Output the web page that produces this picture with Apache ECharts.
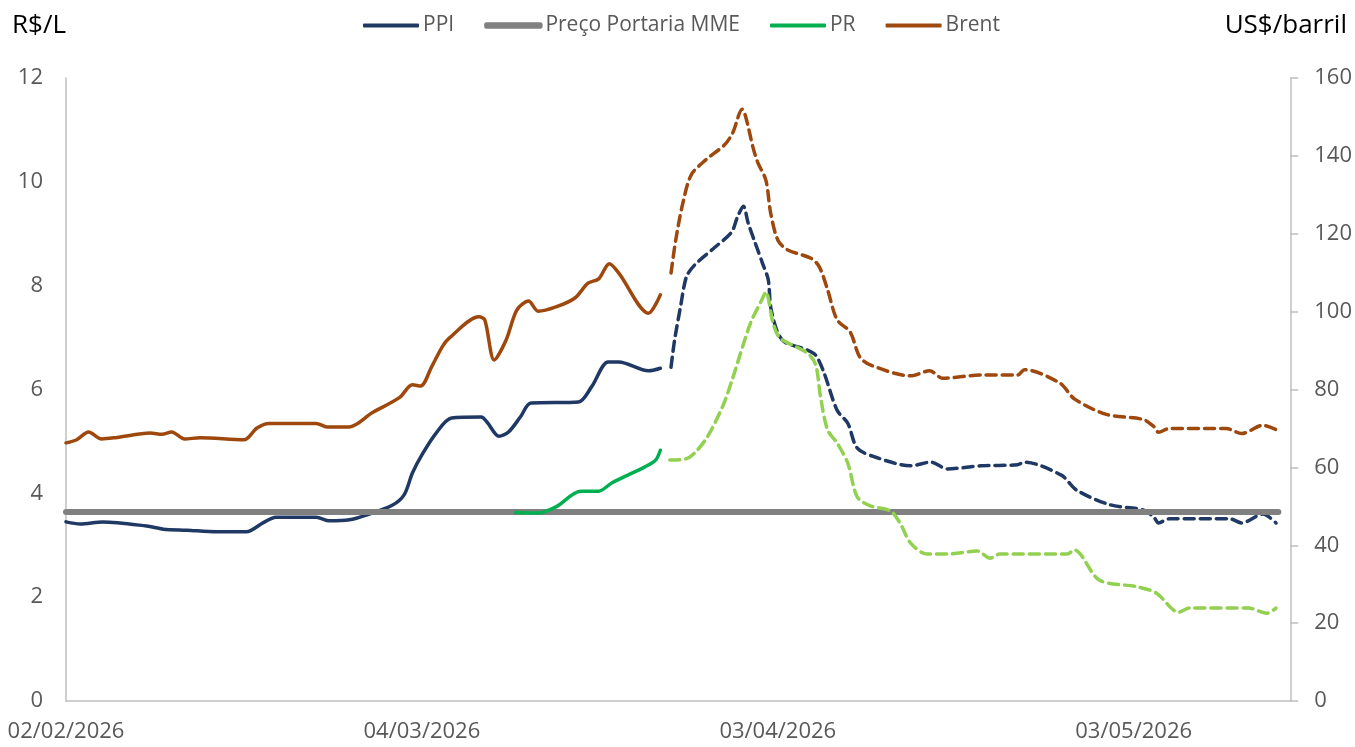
<!DOCTYPE html>
<html>
<head>
<meta charset="utf-8">
<script src="https://cdn.jsdelivr.net/npm/echarts@6/dist/echarts.min.js"></script>
<style>
  html, body { margin: 0; padding: 0; background: #fff; }
  #chart { width: 1355px; height: 747px; }
</style>
</head>
<body>
<div id="chart"></div>
<script>
// eixo x: dias desde 02/02/2026
const dataBase = Date.UTC(2026, 1, 2)
const xTicks = [0, 30, 60, 90]

// PPI (R$/L)
const ppiDias = [0, 1.2, 3.1, 6.8, 8.2, 10.2, 12.7, 15.2, 16.6, 17.7, 21.1, 22.2, 23.9, 25.3, 27.5, 28.5, 29.2, 30.0, 31.2, 32.5, 35.0, 35.5, 36.5, 37.3, 38.3, 39.2, 43.2, 44.3, 45.7, 46.6, 49.1, 50.1]
const ppiValores = [3.45, 3.41, 3.45, 3.37, 3.31, 3.29, 3.26, 3.26, 3.43, 3.54, 3.54, 3.47, 3.49, 3.58, 3.77, 3.97, 4.39, 4.74, 5.16, 5.45, 5.47, 5.37, 5.10, 5.18, 5.47, 5.74, 5.76, 6.05, 6.53, 6.53, 6.36, 6.41]
// PPI projetado
const ppiProjDias = [51.0, 51.3, 51.8, 52.3, 53.0, 54.7, 56.1, 56.6, 57.1, 57.5, 58.1, 58.7, 59.2, 59.4, 60.0, 60.6, 62.5, 63.2, 63.9, 65.0, 65.9, 66.7, 68.2, 71.2, 72.9, 74.3, 77.1, 80.2, 80.8, 83.9, 85.2, 88.0, 90.8, 91.7, 92.1, 93.0, 98.1, 99.1, 100.9, 102.0]
const ppiProjValores = [6.43, 6.95, 7.59, 8.17, 8.40, 8.74, 9.03, 9.32, 9.53, 9.21, 8.82, 8.44, 8.11, 7.59, 7.09, 6.91, 6.76, 6.66, 6.32, 5.60, 5.35, 4.87, 4.70, 4.53, 4.60, 4.47, 4.53, 4.55, 4.60, 4.35, 4.06, 3.78, 3.68, 3.54, 3.43, 3.51, 3.51, 3.43, 3.60, 3.43]

// Preço Portaria MME (R$/L)
const mmeDias = [0, 102.2]
const mmeValores = [3.64, 3.64]

// PR (R$/L)
const prDias = [37.9, 39.8, 41.3, 43.4, 44.9, 46.0, 48.8, 49.7, 50.1]
const prValores = [3.63, 3.62, 3.74, 4.04, 4.04, 4.20, 4.51, 4.64, 4.83]
// PR projetado
const prProjDias = [50.9, 52.2, 53.0, 54.1, 55.4, 56.2, 57.7, 58.6, 59.0, 59.6, 60.2, 62.5, 63.2, 63.6, 64.2, 65.0, 65.9, 66.7, 67.8, 69.5, 70.3, 71.2, 72.6, 74.3, 76.8, 77.9, 78.7, 84.4, 85.0, 87.1, 90.3, 91.9, 93.8, 94.7, 99.7, 101.2, 102.0]
const prProjValores = [4.64, 4.66, 4.78, 5.10, 5.70, 6.22, 7.28, 7.70, 7.88, 7.28, 6.99, 6.70, 6.47, 5.86, 5.22, 4.97, 4.58, 3.93, 3.76, 3.66, 3.43, 3.04, 2.83, 2.83, 2.89, 2.75, 2.83, 2.83, 2.91, 2.33, 2.20, 2.08, 1.71, 1.79, 1.79, 1.69, 1.79]

// Brent (US$/barril)
const brentDias = [0, 0.9, 1.9, 3.0, 4.3, 7.1, 8.1, 8.9, 10.0, 11.3, 15.0, 16.1, 17.1, 21.1, 22.0, 23.9, 25.8, 28.1, 29.2, 29.9, 30.8, 31.7, 32.3, 34.8, 35.3, 36.1, 37.1, 38.0, 39.0, 39.8, 41.3, 42.9, 44.0, 44.9, 45.8, 46.6, 49.1, 50.1]
const brentValores = [66.3, 67.1, 69.1, 67.3, 67.7, 68.8, 68.5, 69.1, 67.3, 67.6, 67.1, 70.1, 71.3, 71.3, 70.4, 70.4, 74.0, 77.9, 81.2, 80.9, 85.7, 90.9, 93.2, 98.7, 97.9, 87.6, 92.7, 100.4, 102.7, 100.1, 101.2, 103.5, 107.3, 108.4, 112.3, 109.9, 99.6, 104.3]
// Brent projetado
const brentProjDias = [51.0, 51.4, 52.0, 52.7, 53.9, 55.5, 56.2, 57.0, 57.3, 57.9, 58.3, 59.0, 59.4, 60.0, 60.8, 62.8, 63.5, 64.2, 65.0, 66.1, 66.9, 67.8, 71.2, 72.8, 73.9, 77.1, 80.2, 80.8, 83.8, 85.0, 87.7, 90.8, 91.7, 92.1, 93.0, 97.8, 99.1, 100.9, 102.0]
const brentProjValores = [109.9, 118.4, 127.9, 135.1, 138.9, 142.8, 145.9, 152.0, 150.0, 142.3, 138.4, 133.7, 125.3, 118.4, 115.9, 113.7, 111.5, 105.6, 97.9, 94.8, 88.4, 86.3, 83.5, 84.8, 82.9, 83.7, 83.7, 85.1, 81.6, 77.6, 73.6, 72.3, 70.5, 69.0, 70.0, 70.0, 68.7, 70.8, 69.7]

const corPPI = '#1F3864'
const corMME = '#808080'
const corPR = '#00B050'
const corPRProj = '#92D050'
const corBrent = '#9E480E'
const corTexto = '#595959'
const corEixo = '#BFBFBF'
const fonte = '"Open Sans", "Noto Sans", sans-serif'

function pares(dias, valores) {
  return dias.map((d, i) => [d, valores[i]])
}

function formatarData(dia) {
  const d = new Date(dataBase + dia * 86400000)
  const dd = String(d.getUTCDate()).padStart(2, '0')
  const mm = String(d.getUTCMonth() + 1).padStart(2, '0')
  return `${dd}/${mm}/${d.getUTCFullYear()}`
}

function linha(nome, dias, valores, cor, tracejado, eixo, largura) {
  return {
    name: nome,
    type: 'line',
    yAxisIndex: eixo,
    data: pares(dias, valores),
    smooth: 0.3,
    symbol: 'none',
    legendIcon: 'roundRect',
    silent: true,
    lineStyle: {
      color: cor,
      width: largura || 3.5,
      type: tracejado ? [10, 6] : 'solid',
      cap: 'round',
    },
    itemStyle: { color: cor },
  }
}

function itemLegenda(nome, cor, borda) {
  return {
    name: nome,
    icon: 'roundRect',
    itemStyle: { color: cor, borderColor: cor, borderWidth: borda },
  }
}

const chart = echarts.init(document.getElementById('chart'))

const option = {
  backgroundColor: '#fff',
  animation: false,
  textStyle: { fontFamily: fonte },
  legend: {
    data: [
      itemLegenda('PPI', corPPI, 0),
      itemLegenda('Preço Portaria MME', corMME, 2.5),
      itemLegenda('PR', corPR, 0),
      itemLegenda('Brent', corBrent, 0),
    ],
    left: 358,
    top: 10,
    itemWidth: 56,
    itemHeight: 4,
    itemGap: 30,
    textStyle: { color: corTexto, fontSize: 21, fontFamily: fonte, padding: [0, 0, 0, -1] },
  },
  graphic: [
    {
      type: 'text',
      left: 12,
      top: 13,
      style: { text: 'R$/L', fill: '#000', font: `26px ${fonte}` },
    },
    {
      type: 'text',
      right: 8,
      top: 13,
      style: { text: 'US$/barril', fill: '#000', font: `26px ${fonte}` },
    },
  ],
  grid: {
    left: 66,
    right: 63,
    top: 78,
    bottom: 46,
    containLabel: false,
  },
  xAxis: {
    type: 'value',
    min: 0,
    max: 103.2,
    interval: 30,
    splitLine: { show: false },
    axisTick: { show: false },
    axisLine: { lineStyle: { color: corEixo, width: 1.5 } },
    axisLabel: {
      color: corTexto,
      fontSize: 22,
      margin: 20,
      showMaxLabel: false,
      formatter: (v) => (xTicks.includes(v) ? formatarData(v) : ''),
    },
  },
  yAxis: [
    {
      type: 'value',
      min: 0,
      max: 12,
      interval: 2,
      splitLine: { show: false },
      axisTick: { show: false },
      axisLine: { show: true, lineStyle: { color: corEixo, width: 1.5 } },
      axisLabel: { color: corTexto, fontSize: 22, margin: 23 },
    },
    {
      type: 'value',
      min: 0,
      max: 160,
      interval: 20,
      position: 'right',
      splitLine: { show: false },
      axisTick: { show: true, length: 8, lineStyle: { color: corEixo, width: 1.5 } },
      axisLine: { show: true, lineStyle: { color: corEixo, width: 1.5 } },
      axisLabel: { color: corTexto, fontSize: 22, margin: 24 },
    },
  ],
  series: [
    linha('PPI', ppiDias, ppiValores, corPPI, false, 0),
    linha('PPI projetado', ppiProjDias, ppiProjValores, corPPI, true, 0),
    linha('Preço Portaria MME', mmeDias, mmeValores, corMME, false, 0, 6),
    linha('PR', prDias, prValores, corPR, false, 0),
    linha('PR projetado', prProjDias, prProjValores, corPRProj, true, 0),
    linha('Brent', brentDias, brentValores, corBrent, false, 1),
    linha('Brent projetado', brentProjDias, brentProjValores, corBrent, true, 1),
  ],
}

chart.setOption(option)
</script>
</body>
</html>
